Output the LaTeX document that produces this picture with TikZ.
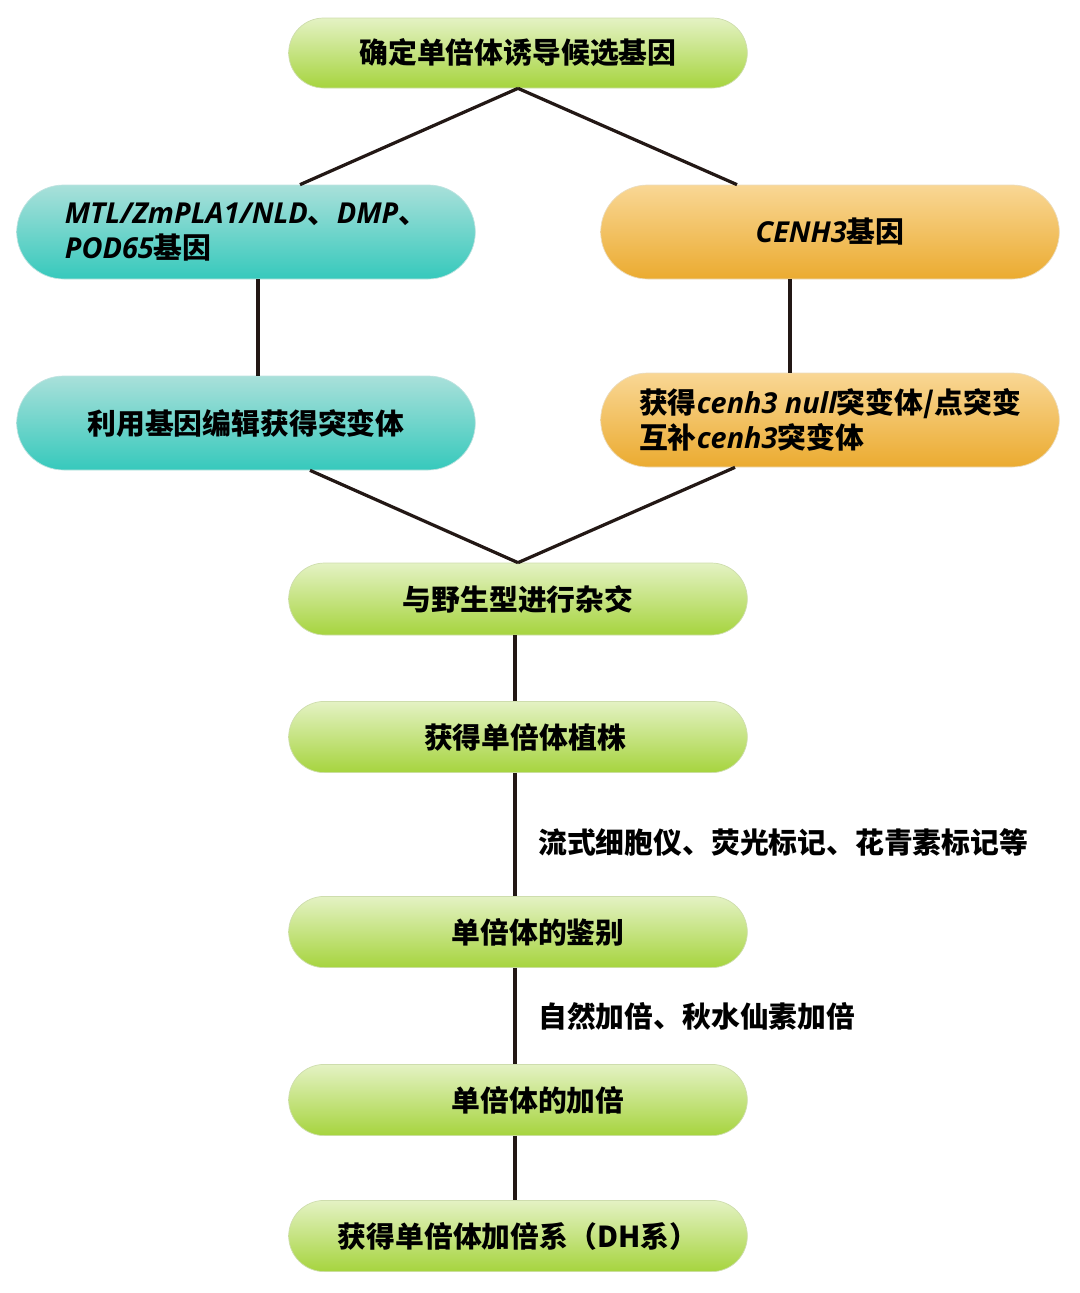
\documentclass[tikz,border=0pt]{standalone}
\usepackage{fontspec}
\setmainfont{Noto Sans CJK SC}
\newfontfamily\genefont{Open Sans}
\usepackage{tikz}
\usetikzlibrary{shapes.misc,positioning,calc}
\definecolor{greentop}{HTML}{E4F2C4}
\definecolor{greenbot}{HTML}{A6D43E}
\definecolor{tealtop}{HTML}{A9E0DA}
\definecolor{tealbot}{HTML}{36C9BC}
\definecolor{orangetop}{HTML}{F9D795}
\definecolor{orangebot}{HTML}{EBAB30}
\definecolor{linedark}{HTML}{231815}
\newcommand{\gi}[1]{{\genefont\bfseries\itshape #1}}
\tikzset{
  flowbox/.style={rounded rectangle, minimum width=11.7cm,
    font=\fontsize{20.5}{25}\selectfont\bfseries, align=left, text=black},
  greenbox/.style={flowbox, top color=greentop, bottom color=greenbot,
    draw=greenbot!80!black!40, line width=0.5pt, minimum height=1.78cm},
  tealbox/.style={flowbox, top color=tealtop, bottom color=tealbot,
    draw=tealbot!80!black!30, line width=0.5pt, minimum height=2.35cm},
  orangebox/.style={flowbox, top color=orangetop, bottom color=orangebot,
    draw=orangebot!80!black!30, line width=0.5pt, minimum height=2.35cm},
  flowline/.style={line width=2.3pt, linedark},
  sidenote/.style={anchor=west, font=\fontsize{20.5}{25}\selectfont\bfseries,
    inner sep=0pt},
}

\begin{document}
\begin{tikzpicture}[x=1cm, y=1cm]
\useasboundingbox (0,0) rectangle (27,-32.325);

%% ── Candidate genes ─────────────────────────────────────────────────────
\node[greenbox, minimum height=1.75cm] (candidate) at (12.95,-1.325)
  {确定单倍体诱导候选基因};

\node[tealbox] (mtlgene) at (6.15,-5.8)
  {\gi{MTL/ZmPLA1/NLD}、\gi{DMP}、\\\gi{POD65}基因};
\node[orangebox] (cenhgene) at (20.75,-5.8) {\gi{CENH3}基因};

%% ── Mutants ─────────────────────────────────────────────────────────────
\node[tealbox] (editmut) at (6.15,-10.575) {利用基因编辑获得突变体};
\node[orangebox] (cenhmut) at (20.75,-10.5)
  {获得\gi{cenh3 null}突变体/点突变\\互补\gi{cenh3}突变体};

\draw[flowline] (candidate.south) -- ([xshift=1.35cm]mtlgene.north);
\draw[flowline] (candidate.south) -- ([xshift=-2.325cm]cenhgene.north);
\draw[flowline] ([xshift=0.3cm]mtlgene.south) -- ([xshift=0.3cm]editmut.north);
\draw[flowline] ([xshift=-1cm]cenhgene.south) -- ([xshift=-1cm]cenhmut.north);

%% ── Main chain ──────────────────────────────────────────────────────────
\node[greenbox, minimum height=1.8cm] (cross) at (12.95,-14.975) {与野生型进行杂交};
\node[greenbox] (haploid) at (12.95,-18.425) {\hspace*{0.35cm}获得单倍体植株};
\node[greenbox] (identify) at (12.95,-23.3) {\hspace*{1cm}单倍体的鉴别};
\node[greenbox] (doubling) at (12.95,-27.5) {\hspace*{1cm}单倍体的加倍};
\node[greenbox] (dhline) at (12.95,-30.9) {获得单倍体加倍系（DH系）};

\draw[flowline] ([xshift=1.6cm]editmut.south) -- (cross.north);
\draw[flowline] ([xshift=-2.375cm]cenhmut.south) -- (cross.north);
\draw[flowline] ([xshift=-0.075cm]cross.south) -- ([xshift=-0.075cm]haploid.north);
\draw[flowline] ([xshift=-0.075cm]haploid.south) -- ([xshift=-0.075cm]identify.north);
\draw[flowline] ([xshift=-0.075cm]identify.south) -- ([xshift=-0.075cm]doubling.north);
\draw[flowline] ([xshift=-0.075cm]doubling.south) -- ([xshift=-0.075cm]dhline.north);

%% ── Method notes ────────────────────────────────────────────────────────
\node[sidenote] (idnote) at (13.45,-21.05) {流式细胞仪、荧光标记、花青素标记等};
\node[sidenote] (dbnote) at (13.45,-25.42) {自然加倍、秋水仙素加倍};

\end{tikzpicture}
\end{document}
